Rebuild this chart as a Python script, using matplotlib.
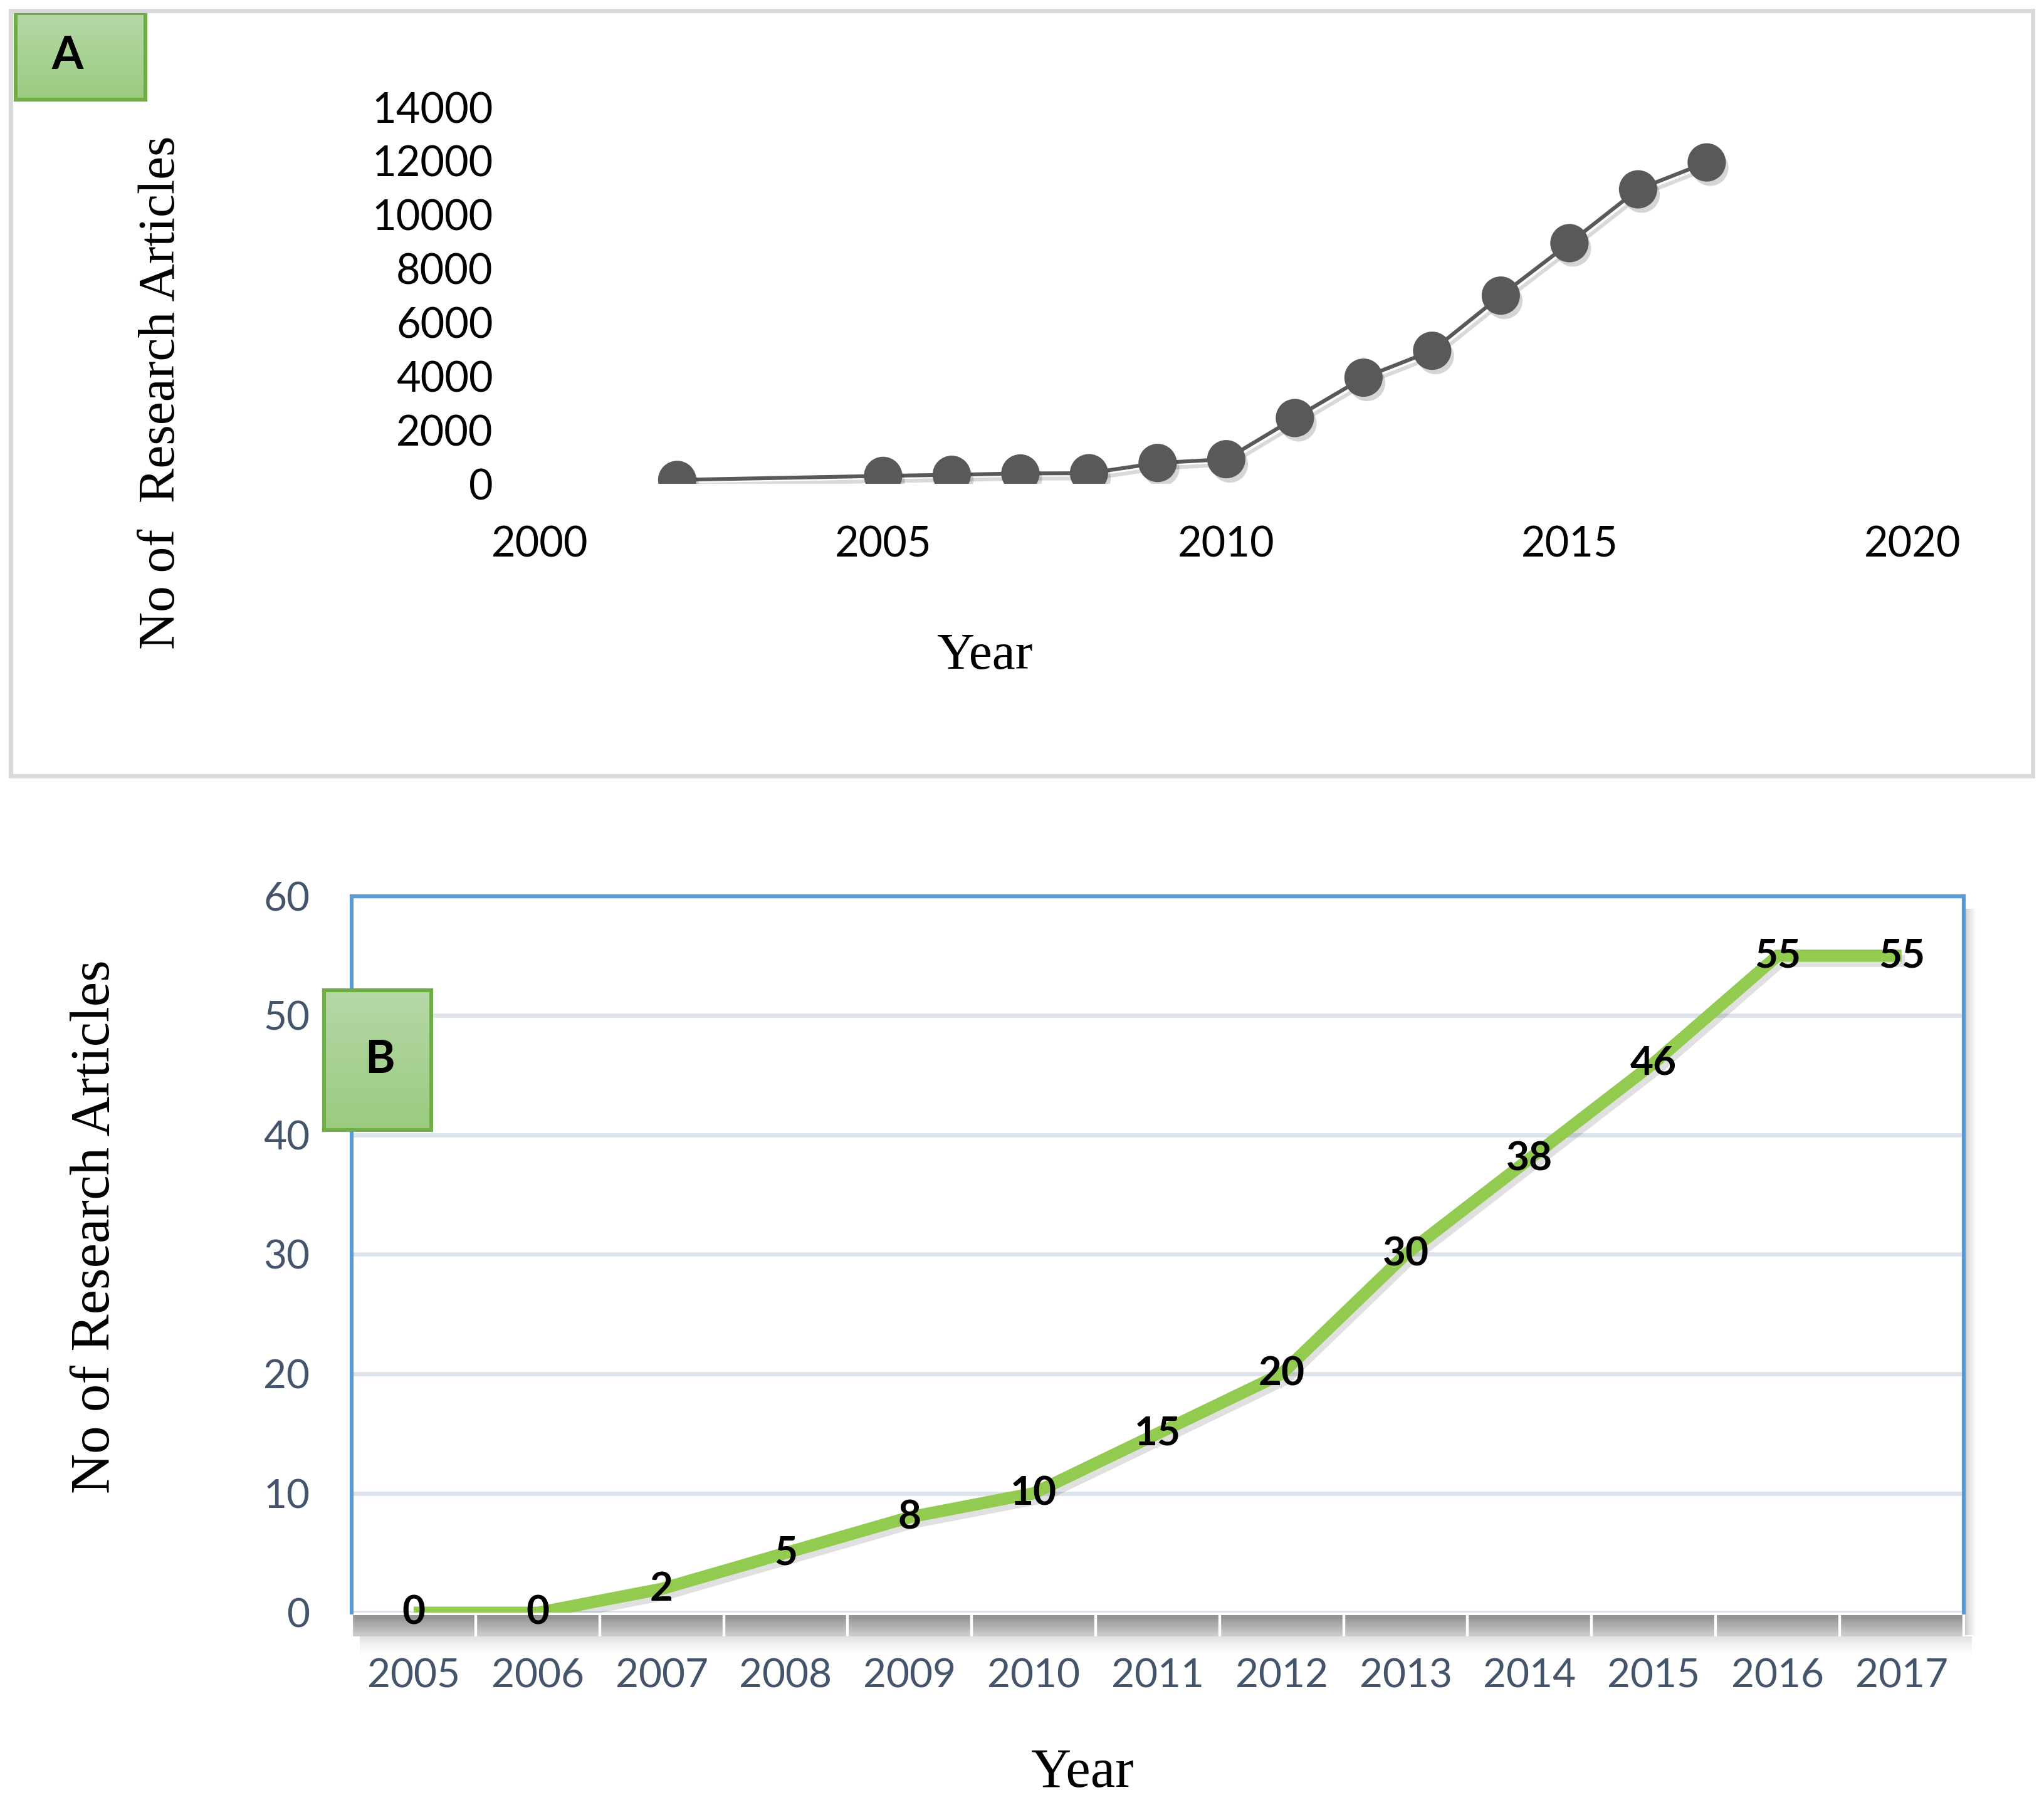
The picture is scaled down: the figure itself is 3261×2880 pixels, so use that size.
import numpy as np
import matplotlib
matplotlib.use("Agg")
import matplotlib.pyplot as plt
from matplotlib.colors import LinearSegmentedColormap
from matplotlib.patches import Rectangle
import matplotlib.patheffects as pe

# panel A data
years_a = [2002, 2005, 2006, 2007, 2008, 2009, 2010, 2011, 2012, 2013, 2014, 2015, 2016, 2017]
articles_a = [150, 300, 340, 390, 400, 780, 920, 2450, 3950, 4950, 7000, 8950, 10950, 11950]
yticks_a = [0, 2000, 4000, 6000, 8000, 10000, 12000, 14000]
xticks_a = [2000, 2005, 2010, 2015, 2020]

# panel B data
years_b = ["2005", "2006", "2007", "2008", "2009", "2010", "2011",
           "2012", "2013", "2014", "2015", "2016", "2017"]
articles_b = [0, 0, 2, 5, 8, 10, 15, 20, 30, 38, 46, 55, 55]
yticks_b = [0, 10, 20, 30, 40, 50, 60]

SANS = ["Lato", "DejaVu Sans"]
SERIF = ["Liberation Serif", "DejaVu Serif"]

# layout measured in reference pixels (1564 x 1380)
W, H = 1564.0, 1380.0


def rect(x0, y0, x1, y1):
    return [x0 / W, 1 - y1 / H, (x1 - x0) / W, (y1 - y0) / H]


def label_box(fig, box, letter, tx):
    ax = fig.add_axes(rect(*box))
    cmap = LinearSegmentedColormap.from_list("g", ["#9BCB7F", "#B5D8A7"])
    ax.imshow(np.linspace(0, 1, 100).reshape(-1, 1), aspect="auto", cmap=cmap,
              extent=[0, 1, 0, 1], origin="lower")
    ax.set_xticks([])
    ax.set_yticks([])
    for s in ax.spines.values():
        s.set_color("#70AD47")
        s.set_linewidth(2.2)
    ax.text(tx, 0.5, letter, ha="center", va="center", fontsize=26,
            fontweight="bold", family=SANS, color="black", transform=ax.transAxes)
    return ax


def shadow(fig, box, horizontal, a0=0.35):
    ax = fig.add_axes(rect(*box))
    n = 50
    img = np.zeros((1, n, 4)) if horizontal else np.zeros((n, 1, 4))
    alpha = np.linspace(a0, 0, n) ** 1.5
    if horizontal:
        img[0, :, 3] = alpha
    else:
        img[:, 0, 3] = alpha
    ax.imshow(img, aspect="auto", extent=[0, 1, 0, 1], origin="upper")
    ax.axis("off")


fig = plt.figure(figsize=(16.31, 14.40), dpi=200)

# ---------- panel A ----------
fig.patches.append(Rectangle((8 / W, 1 - 593 / H), (1555 - 8) / W, (593 - 8) / H,
                             transform=fig.transFigure, fill=False,
                             edgecolor="#D9D9D9", linewidth=2.5))

ax_a = fig.add_axes(rect(413, 82, 1463, 370))
ax_a.set_xlim(2000, 2020)
ax_a.set_ylim(0, 14000)
ax_a.plot(years_a, articles_a, color="#595959", lw=2.2, zorder=2,
          path_effects=[pe.SimpleLineShadow(offset=(2, -3), alpha=0.15), pe.Normal()])
ax_a.plot(years_a, articles_a, "o", color="#595959", ms=21, zorder=3,
          path_effects=[pe.SimplePatchShadow(offset=(2, -3), alpha=0.18), pe.Normal()])
ax_a.set_xticks(xticks_a)
ax_a.set_yticks(yticks_a)
ax_a.tick_params(length=0, labelsize=24, colors="black")
ax_a.tick_params(axis="y", pad=27)
ax_a.tick_params(axis="x", pad=24)
for t in ax_a.get_xticklabels() + ax_a.get_yticklabels():
    t.set_family(SANS)
for s in ax_a.spines.values():
    s.set_visible(False)
ax_a.patch.set_alpha(0)

fig.text(124 / W, 1 - 300 / H, "No of  Research Articles", rotation=90,
         ha="center", va="center", fontsize=30, family=SERIF)
fig.text(753 / W, 1 - 502 / H, "Year", ha="center", va="center",
         fontsize=30, family=SERIF)

label_box(fig, (12, 10, 111, 76), "A", 0.4)

# ---------- panel B ----------
# shadows of the chart frame
shadow(fig, (1503, 695, 1513, 1250), True)
shadow(fig, (275, 1251, 1508, 1268), False, 0.25)

# grey base strip under the category axis
ax_base = fig.add_axes(rect(269, 1235, 1502, 1251))
cmap_base = LinearSegmentedColormap.from_list("b", ["#8F8F8F", "#CFCFCF"])
ax_base.imshow(np.linspace(0, 1, 50).reshape(-1, 1), aspect="auto", cmap=cmap_base,
               extent=[-0.5, len(years_b) - 0.5, 0, 1], origin="upper")
ax_base.set_xlim(-0.5, len(years_b) - 0.5)
for k in range(len(years_b) + 1):
    ax_base.axvline(k - 0.5, color="white", lw=1.6)
ax_base.axis("off")

ax_b = fig.add_axes(rect(269, 685, 1502, 1233))
x_b = np.arange(len(years_b))
ax_b.set_xlim(-0.5, len(years_b) - 0.5)
ax_b.set_ylim(0, 60)
ax_b.set_yticks(yticks_b)
ax_b.yaxis.grid(True, color="#DCE3EB", lw=2.4)
ax_b.set_axisbelow(True)
ax_b.plot(x_b, articles_b, color="#92CB4F", lw=7, solid_capstyle="butt",
          solid_joinstyle="miter", zorder=3,
          path_effects=[pe.SimpleLineShadow(offset=(2, -3), alpha=0.12), pe.Normal()])
for xi, v in zip(x_b, articles_b):
    ax_b.text(xi, v, str(v), ha="center", va="center", fontsize=23,
              fontweight="bold", family=SANS, color="black", zorder=5, clip_on=False)
ax_b.set_xticks(x_b)
ax_b.set_xticklabels(years_b)
ax_b.tick_params(length=0, labelsize=23, colors="#44546A")
ax_b.tick_params(axis="y", pad=24)
ax_b.tick_params(axis="x", pad=26)
for t in ax_b.get_xticklabels() + ax_b.get_yticklabels():
    t.set_family(SANS)
for side in ["top", "left", "right"]:
    ax_b.spines[side].set_color("#5B9BD5")
    ax_b.spines[side].set_linewidth(2.2)
ax_b.spines["bottom"].set_visible(False)
ax_b.patch.set_alpha(0)

fig.text(73 / W, 1 - 938 / H, "No of Research Articles", rotation=90,
         ha="center", va="center", fontsize=32, family=SERIF)
fig.text(828 / W, 1 - 1356 / H, "Year", ha="center", va="center",
         fontsize=32, family=SERIF)

label_box(fig, (248, 757, 330, 864), "B", 0.52)

fig.savefig("out.png", dpi=200)
